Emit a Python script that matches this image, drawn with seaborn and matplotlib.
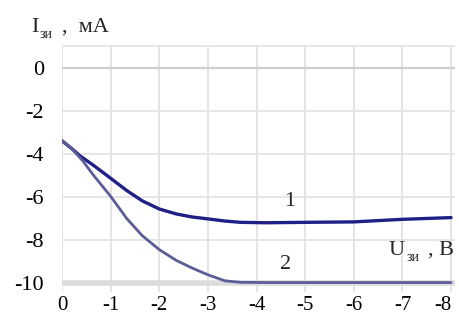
import numpy as np
import pandas as pd
import matplotlib
matplotlib.use("Agg")
import matplotlib.pyplot as plt
import seaborn as sns

# curve 1 and curve 2 (U in V, I in mA)
u1 = [0, -0.2, -0.37, -0.63, -1, -1.33, -1.65, -2, -2.35, -2.67, -3, -3.35, -3.67, -4.2, -5, -6, -6.5, -7, -7.5, -8]
i1 = [-3.39, -3.75, -4.09, -4.5, -5.13, -5.7, -6.18, -6.56, -6.79, -6.93, -7.02, -7.12, -7.18, -7.2, -7.18, -7.16, -7.1, -7.04, -7.0, -6.96]
u2 = [0, -0.2, -0.43, -0.63, -1, -1.33, -1.65, -2, -2.35, -2.67, -3, -3.35, -3.67, -4.2, -5, -6, -7, -8]
i2 = [-3.39, -3.75, -4.33, -4.94, -5.97, -7.0, -7.8, -8.45, -8.95, -9.3, -9.62, -9.9, -9.97, -9.98, -9.98, -9.98, -9.98, -9.98]
xTicks = [0, -1, -2, -3, -4, -5, -6, -7, -8]
yTicks = [0, -2, -4, -6, -8, -10]
curveLabels = ["1", "2"]

df = pd.concat([
    pd.DataFrame({"u": u1, "i": i1, "curve": curveLabels[0]}),
    pd.DataFrame({"u": u2, "i": i2, "curve": curveLabels[1]}),
])

sns.set_style("white")
plt.rcParams['font.family'] = ['Liberation Serif', 'DejaVu Serif']

W, H = 460, 323
fig = plt.figure(figsize=(W / 100, H / 100), dpi=100)
ax = fig.add_axes([62 / W, 1 - 292 / H, (455 - 62) / W, (292 - 44.5) / H])

# grid drawn by hand to mimic the scanned look
for x in xTicks:
    ax.axvline(x, color="#e2e2e2", lw=1.3, zorder=0)
for y in [1, -2, -4, -6, -8]:
    ax.axhline(y, color="#e4e4e4", lw=1.3, zorder=0)
ax.axhline(0, color="#cfcfcf", lw=1.6, zorder=0)
ax.axhline(-10, color="#dcdcdc", lw=4, zorder=0)

sns.lineplot(data=df, x="u", y="i", hue="curve", palette={"1": "#1f1f86", "2": "#5c5c96"},
             sort=False, legend=False, ax=ax, zorder=3)
ax.lines[-2].set_linewidth(2.4)
ax.lines[-1].set_linewidth(2.0)

ax.set_xlim(0, -8.08)
ax.set_ylim(-10.42, 1.09)
ax.set_xticks(xTicks)
ax.set_yticks(yTicks)
ax.set_xticklabels([str(t) for t in xTicks])
ax.set_yticklabels([str(t) for t in yTicks])
ax.tick_params(axis="both", length=0, labelcolor="black")
ax.tick_params(axis="y", pad=13, labelsize=16)
ax.tick_params(axis="x", pad=3, labelsize=15)
ax.get_xticklabels()[-1].set_horizontalalignment("right")
for s in ax.spines.values():
    s.set_visible(False)
ax.set_xlabel("")
ax.set_ylabel("")

# curve numbers
ax.text(-4.69, -6.23, curveLabels[0], fontsize=16, ha="center", va="center")
ax.text(-4.6, -9.16, curveLabels[1], fontsize=16, ha="center", va="center")

# axis titles with subscripts
def fx(px):
    return px / W

def fy(py):
    return 1 - py / H

fig.text(fx(31), fy(32), "I", fontsize=16, ha="left", va="baseline")
fig.text(fx(40), fy(38), "зи", fontsize=10, ha="left", va="baseline")
fig.text(fx(62), fy(32), ",  мА", fontsize=16, ha="left", va="baseline")

fig.text(fx(389), fy(255), "U", fontsize=16, ha="left", va="baseline")
fig.text(fx(407), fy(261), "зи", fontsize=10, ha="left", va="baseline")
fig.text(fx(428), fy(255), ", В", fontsize=16, ha="left", va="baseline")

fig.savefig("out.png", dpi=100, facecolor="white")
